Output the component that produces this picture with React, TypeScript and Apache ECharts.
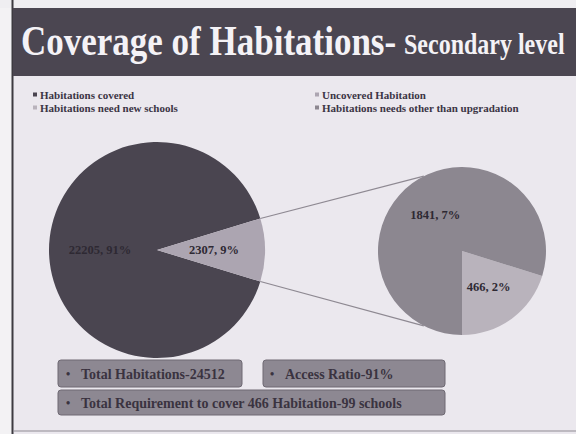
import React, { useEffect, useRef } from "react";
import * as echarts from "echarts";

// ---- data ----
const primaryNames = ["Habitations covered", "Uncovered Habitation"];
const primaryValues = [22205, 2307];
const secondaryNames = ["Habitations need new schools", "Habitations needs other than upgradation"];
const secondaryValues = [466, 1841];
const legendLeftNames = ["Habitations covered", "Habitations need new schools"];
const legendRightNames = ["Uncovered Habitation", "Habitations needs other than upgradation"];
const titleMain = "Coverage of Habitations-";
const titleSub = "Secondary level";
const summaryTexts = [
  "Total Habitations-24512",
  "Access Ratio-91%",
  "Total Requirement to cover 466 Habitation-99 schools",
];

// ---- styles ----
const primaryColors = ["#4a4550", "#aca5b1"];
const secondaryColors = ["#b9b3bc", "#8c8790"];
const SERIF = "'Liberation Serif', 'Times New Roman', serif";
const MAIN_C = [157, 250];
const MAIN_R = 108;
const SEC_C = [462, 251];
const SEC_R = 84;
const CONNECT_ANGLE = 117; // degrees on secondary pie
const labelShift: Record<string, [number, number]> = {
  "0-0": [8, 0],
  "0-1": [20, 0],
  "1-0": [9, 5],
  "1-1": [-6, 13],
};

// largest-remainder percentages (sum to 100), like the spreadsheet did
function percents(values: number[]): number[] {
  const total = values.reduce((a, b) => a + b, 0);
  const raw = values.map((v) => (v / total) * 100);
  const fl = raw.map(Math.floor);
  let rest = 100 - fl.reduce((a, b) => a + b, 0);
  const order = raw.map((r, i) => [r - fl[i], i]).sort((a, b) => b[0] - a[0]);
  for (let k = 0; k < rest; k++) fl[order[k][1]] += 1;
  return fl;
}

export default function App() {
  const ref = useRef<HTMLDivElement>(null);
  useEffect(() => {
    if (!ref.current) return;
    const chart = echarts.init(ref.current, undefined, { renderer: "svg" });
    const total = primaryValues.reduce((a, b) => a + b, 0);
    const uncoveredFrac = primaryValues[1] / total;
    const mainStart = (-uncoveredFrac * 360) / 2;
    const secTotal = secondaryValues.reduce((a, b) => a + b, 0);
    const secStart = -90 + (secondaryValues[0] / secTotal) * 360;
    const half = ((uncoveredFrac * 360) / 2) * (Math.PI / 180);
    const ca = (CONNECT_ANGLE * Math.PI) / 180;
    const p1 = [MAIN_C[0] + MAIN_R * Math.cos(half), MAIN_C[1] - MAIN_R * Math.sin(half)];
    const p2 = [MAIN_C[0] + MAIN_R * Math.cos(half), MAIN_C[1] + MAIN_R * Math.sin(half)];
    const q1 = [SEC_C[0] + SEC_R * Math.cos(ca), SEC_C[1] - SEC_R * Math.sin(ca)];
    const q2 = [SEC_C[0] + SEC_R * Math.cos(ca), SEC_C[1] + SEC_R * Math.sin(ca)];

    const leafPct = percents([primaryValues[0], ...secondaryValues]);
    const mainPct = [leafPct[0], Math.round(uncoveredFrac * 100)];
    const secPct = [leafPct[1], leafPct[2]];

    const labelStyle = (pcts: number[]) => ({
      show: true,
      position: "inside",
      formatter: (p: any) => `${p.value}, ${pcts[p.dataIndex]}%`,
      fontFamily: SERIF,
      fontSize: 12.5,
      fontWeight: "bold",
      color: "#2e2933",
    });

    const boxText = (x: number, y: number, text: string) => [
      {
        type: "text",
        x,
        y,
        z: 20,
        style: { text: "•", font: `bold 12px ${SERIF}`, fill: "#3a3340", verticalAlign: "middle" },
      },
      {
        type: "text",
        x: x + 15,
        y,
        z: 20,
        scaleY: 1.1,
        style: { text, font: `bold 14px ${SERIF}`, fill: "#3a3340", verticalAlign: "middle" },
      },
    ];
    const box = (x: number, y: number, w: number, h: number) => ({
      type: "rect",
      z: 15,
      shape: { x, y, width: w, height: h, r: 3 },
      style: { fill: "#8d8892", stroke: "#6e6973", lineWidth: 1 },
    });

    const legendCommon = {
      orient: "vertical",
      icon: "rect",
      itemWidth: 4,
      itemHeight: 4,
      itemGap: 0,
      selectedMode: false,
      padding: 0,
      textStyle: {
        fontFamily: SERIF,
        fontSize: 11,
        fontWeight: "bold",
        color: "#3b3545",
        lineHeight: 13,
        padding: [0, 0, 0, -2],
      },
    };

    chart.setOption({
      animation: false,
      backgroundColor: "#ebe8ee",
      legend: [
        { ...legendCommon, left: 33, top: 88, data: legendLeftNames },
        { ...legendCommon, left: 315, top: 88, data: legendRightNames },
      ],
      graphic: [
        { type: "rect", z: 1, shape: { x: 0, y: 0, width: 12, height: 434 }, style: { fill: "#f3f2f4" } },
        { type: "rect", z: 1, shape: { x: 0, y: 0, width: 576, height: 8 }, style: { fill: "#efeef1" } },
        { type: "line", z: 2, shape: { x1: 12.5, y1: 0, x2: 12.5, y2: 434 }, style: { stroke: "#3d3a40", lineWidth: 2 } },
        { type: "line", z: 2, shape: { x1: 13, y1: 431, x2: 576, y2: 431 }, style: { stroke: "#8f8b93", lineWidth: 1 } },
        { type: "rect", z: 3, shape: { x: 13, y: 8, width: 563, height: 68 }, style: { fill: "#4b4651" } },
        {
          type: "text",
          z: 4,
          x: 21,
          y: 40,
          scaleY: 1.22,
          style: { text: titleMain, font: `bold 35px ${SERIF}`, fill: "#f4f2f6", verticalAlign: "middle" },
        },
        {
          type: "text",
          z: 4,
          x: 404,
          y: 44,
          scaleY: 1.25,
          style: { text: titleSub, font: `bold 24px ${SERIF}`, fill: "#f4f2f6", verticalAlign: "middle" },
        },
        { type: "line", z: 10, shape: { x1: p1[0], y1: p1[1], x2: q1[0], y2: q1[1] }, style: { stroke: "#8e8992", lineWidth: 1.2 } },
        { type: "line", z: 10, shape: { x1: p2[0], y1: p2[1], x2: q2[0], y2: q2[1] }, style: { stroke: "#8e8992", lineWidth: 1.2 } },
        box(58, 360, 184, 27),
        box(263, 360, 182, 27),
        box(58, 390, 387, 25),
        ...boxText(66, 374, summaryTexts[0]),
        ...boxText(270, 374, summaryTexts[1]),
        ...boxText(66, 403, summaryTexts[2]),
      ],
      labelLayout: (p: any) => {
        const s = labelShift[`${p.seriesIndex}-${p.dataIndex}`] || [0, 0];
        return { dx: s[0], dy: s[1] };
      },
      series: [
        {
          type: "pie",
          center: MAIN_C,
          radius: MAIN_R,
          startAngle: mainStart,
          clockwise: true,
          silent: true,
          label: labelStyle(mainPct),
          labelLine: { show: false },
          emphasis: { disabled: true },
          data: primaryNames.map((n, i) => ({
            name: n,
            value: primaryValues[i],
            itemStyle: { color: primaryColors[i] },
          })),
        },
        {
          type: "pie",
          center: SEC_C,
          radius: SEC_R,
          startAngle: secStart,
          clockwise: true,
          silent: true,
          label: labelStyle(secPct),
          labelLine: { show: false },
          emphasis: { disabled: true },
          data: secondaryNames.map((n, i) => ({
            name: n,
            value: secondaryValues[i],
            itemStyle: { color: secondaryColors[i] },
          })),
        },
      ],
    } as any);
    return () => chart.dispose();
  }, []);
  return (
    <div
      ref={ref}
      style={{ position: "fixed", left: 0, top: 0, width: 576, height: 434 }}
    />
  );
}
